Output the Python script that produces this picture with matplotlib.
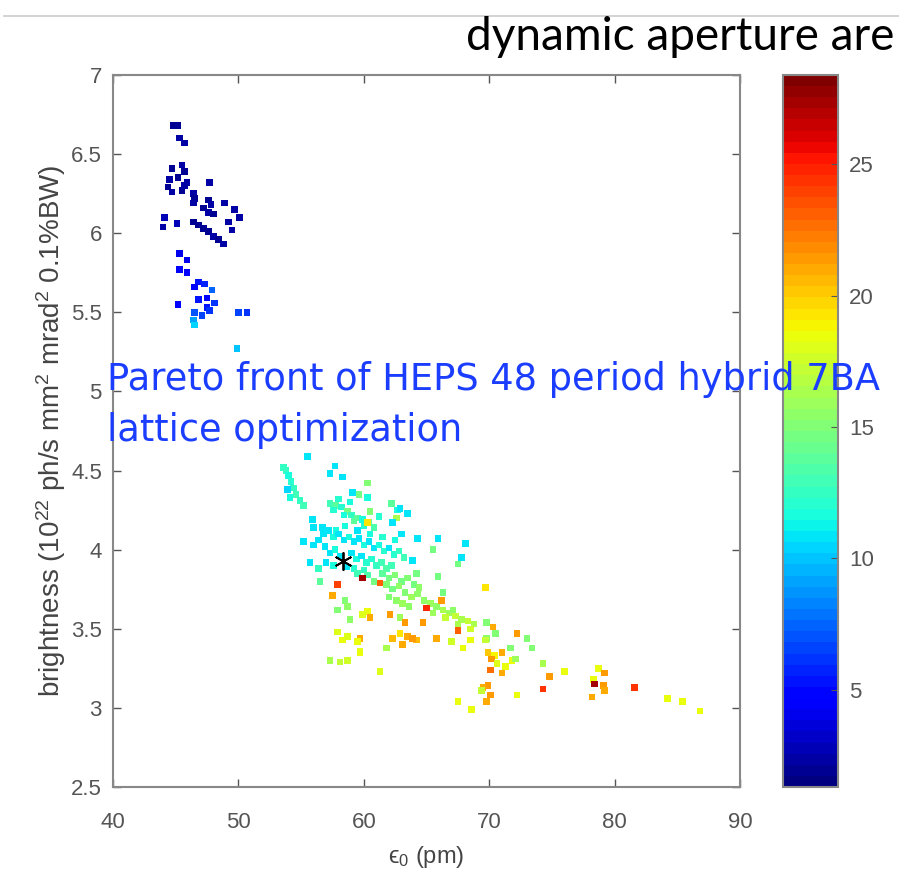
import matplotlib.pyplot as plt
import numpy as np

plt.rcParams['font.family'] = ['Liberation Sans', 'DejaVu Sans']
plt.rcParams['mathtext.default'] = 'regular'

# upper group of the Pareto front (small emittance, high brightness)
top_x = [44.8, 45.2, 45.3, 45.7, 44.7, 45.5, 45.7, 44.5, 45.2, 45.9, 47.7, 44.4, 44.7,
         45.5, 45.7, 46.4, 46.5, 46.4, 47.6, 47.8, 48.9, 47.2, 47.6, 48.0, 49.7, 50.1,
         49.2, 49.5, 44.1, 44.0, 45.1, 46.4, 46.8, 47.2, 47.6, 48.0, 48.4, 48.8,
         45.3, 45.9, 45.3, 45.9, 46.8, 47.3, 47.9, 46.5, 46.8, 47.5, 48.1, 47.5,
         45.2, 46.5, 47.1, 47.7, 46.4, 46.5, 50.0, 50.7, 49.9]
top_y = [6.68, 6.68, 6.60, 6.57, 6.41, 6.43, 6.39, 6.34, 6.35, 6.32, 6.32, 6.29, 6.26,
         6.27, 6.30, 6.25, 6.22, 6.19, 6.21, 6.18, 6.19, 6.16, 6.13, 6.12, 6.15, 6.10,
         6.07, 6.02, 6.10, 6.04, 6.06, 6.07, 6.05, 6.03, 6.01, 5.98, 5.96, 5.93,
         5.87, 5.83, 5.77, 5.75, 5.69, 5.68, 5.64, 5.66, 5.58, 5.59, 5.56, 5.53,
         5.55, 5.50, 5.48, 5.51, 5.45, 5.42, 5.50, 5.50, 5.27]
top_c = [2.0, 2.0, 2.2, 2.2, 2.0, 2.3, 2.0, 2.2, 2.0, 2.3, 2.4, 2.0, 2.2,
         2.0, 2.2, 2.3, 2.0, 2.2, 2.0, 2.3, 2.5, 2.0, 2.2, 2.0, 2.4, 2.3,
         2.2, 2.5, 2.6, 2.3, 2.8, 2.0, 2.0, 2.1, 2.0, 2.2, 2.0, 2.3,
         4.0, 4.2, 4.6, 4.5, 5.2, 5.6, 7.5, 5.0, 5.4, 5.0, 6.0, 5.5,
         4.6, 7.2, 6.8, 6.0, 9.0, 10.2, 6.5, 6.2, 10.0]

# main part of the front
mid_x = [53.6, 53.8, 54.0, 54.2, 54.4, 54.6, 54.9, 55.2, 53.9, 54.1, 55.5, 57.7, 57.3,
         58.3, 60.3, 59.1, 59.6, 60.3,
         57.3, 57.8, 58.2, 58.7, 59.0, 59.5, 59.9, 60.4, 57.6, 58.4, 59.2, 60.0, 60.8,
         60.5, 60.3, 62.2, 62.7, 62.6, 62.9, 63.5, 62.3, 58.0, 58.9, 61.2,
         55.9, 56.0, 56.7, 57.8, 55.2, 56.0, 56.4, 64.3, 65.9, 68.1, 65.5, 67.8, 67.5, 63.9,
         56.8, 57.2, 57.6, 58.0, 58.4, 58.8, 59.2, 59.6, 60.0, 60.4, 60.8, 61.2, 61.6,
         62.0, 62.4, 62.8, 63.2, 56.9, 57.3, 57.7, 58.1, 59.0, 59.4, 59.8, 60.2, 60.6,
         61.0, 61.4, 61.8, 62.2, 57.0, 57.6, 58.6, 59.2, 60.0, 55.7, 56.4, 58.5, 59.5,
         60.5, 61.5, 62.5, 63.0,
         61.5, 62.0, 62.5, 63.0, 63.5, 64.0, 64.4, 61.8, 62.3, 62.8, 63.3, 63.8, 64.3,
         62.0, 62.6, 63.1, 63.6, 60.8, 60.3, 59.5, 65.9, 66.3, 64.2,
         64.8, 65.3, 65.8, 66.3, 66.8, 67.3, 67.8, 68.3, 68.8, 65.5, 66.5, 67.5, 68.5,
         69.8, 70.5, 73.0, 73.4, 71.7, 69.8, 67.1, 58.5, 57.9, 58.9, 56.5]
mid_y = [4.52, 4.50, 4.47, 4.43, 4.39, 4.35, 4.31, 4.28, 4.38, 4.33, 4.59, 4.53, 4.48,
         4.46, 4.42, 4.36, 4.35, 4.33,
         4.29, 4.28, 4.27, 4.24, 4.22, 4.20, 4.19, 4.17, 4.25, 4.22, 4.18, 4.15, 4.14,
         4.24, 4.17, 4.29, 4.25, 4.20, 4.26, 4.23, 4.17, 4.32, 4.30, 4.21,
         4.19, 4.14, 4.14, 4.12, 4.05, 4.03, 4.06, 4.07, 4.07, 4.04, 4.00, 3.95, 3.91, 3.93,
         4.10, 4.12, 4.08, 4.10, 4.06, 4.08, 4.05, 4.07, 4.03, 4.05, 4.01, 4.03, 3.99,
         4.01, 3.97, 3.99, 3.95, 4.02, 3.98, 4.00, 3.96, 3.98, 3.94, 3.96, 3.92, 3.94,
         3.90, 3.92, 3.88, 3.90, 3.92, 3.90, 3.89, 3.88, 3.87, 3.92, 3.88, 4.15, 4.12,
         4.10, 4.08, 4.06, 4.10,
         3.85, 3.82, 3.84, 3.80, 3.82, 3.78, 3.76, 3.78, 3.75, 3.77, 3.73, 3.70, 3.72,
         3.70, 3.68, 3.66, 3.64, 3.80, 3.84, 3.85, 3.83, 3.73, 3.85,
         3.68, 3.66, 3.64, 3.62, 3.60, 3.58, 3.56, 3.55, 3.53, 3.60, 3.57, 3.53, 3.50,
         3.54, 3.47, 3.44, 3.38, 3.38, 3.44, 3.62, 3.68, 3.62, 3.56, 3.80]
mid_c = [12.5, 12.5, 11.5, 12.0, 12.5, 13.0, 12.5, 13.0, 10.5, 11.5, 11.0, 11.0, 11.0,
         11.0, 15.0, 11.0, 14.5, 11.5,
         13.0, 14.0, 12.0, 14.5, 12.5, 14.0, 11.5, 13.5, 12.0, 11.5, 14.0, 12.0, 13.5,
         15.0, 19.5, 14.0, 11.5, 16.5, 11.0, 11.0, 11.0, 12.0, 11.5, 12.0,
         11.0, 11.0, 11.0, 11.5, 11.0, 11.0, 11.0, 11.0, 11.0, 11.0, 14.5, 11.0, 14.5, 11.0,
         11.0, 11.0, 11.5, 11.0, 11.0, 11.5, 11.0, 11.0, 11.5, 11.0, 11.0, 11.5, 12.0,
         11.0, 12.0, 12.5, 13.0, 11.0, 11.0, 11.5, 11.0, 11.0, 11.5, 11.0, 12.0, 12.0,
         12.5, 13.0, 13.5, 13.0, 11.0, 11.5, 11.0, 12.0, 12.5, 11.0, 12.5, 11.5, 11.0,
         11.5, 12.0, 11.5, 11.0,
         14.0, 14.5, 15.0, 14.5, 15.0, 14.5, 15.5, 15.0, 14.5, 15.5, 15.0, 16.0, 15.5,
         15.0, 15.5, 16.0, 15.5, 14.5, 13.5, 13.0, 14.5, 14.5, 14.5,
         15.5, 16.0, 15.5, 16.5, 16.0, 17.0, 16.5, 17.0, 16.5, 16.0, 17.0, 16.5, 17.5,
         15.0, 15.0, 15.0, 15.0, 15.0, 15.5, 15.5, 15.0, 15.0, 15.5, 14.0]

# lower group (large emittance, large dynamic aperture)
low_x = [59.9, 57.9, 57.5, 61.3, 65.0, 66.2, 58.7, 60.3, 59.9, 60.5, 62.1, 62.9, 63.3,
         57.9, 58.3, 58.7, 59.7, 59.5, 59.7, 61.8, 62.3, 62.9, 63.5, 64.2, 63.9, 64.7,
         59.7, 57.3, 58.1, 58.7, 61.3, 63.1, 65.8, 67.0, 68.5, 67.9, 67.5, 69.7, 70.3,
         69.7, 72.2, 69.9, 70.4, 71.0, 71.8, 70.1, 71.0, 71.3, 72.1, 74.3, 74.8, 76.0,
         69.9, 69.5, 69.4, 70.1, 69.8, 67.5, 68.6, 72.2, 74.3, 78.7, 79.2, 78.3,
         78.4, 79.1, 79.2, 78.2, 81.6, 84.2, 85.4, 86.8, 70.2, 70.6]
low_y = [3.82, 3.78, 3.71, 3.79, 3.63, 3.68, 3.64, 3.61, 3.59, 3.57, 3.59, 3.57, 3.54,
         3.48, 3.43, 3.45, 3.44, 3.42, 3.36, 3.38, 3.44, 3.47, 3.45, 3.43, 3.44, 3.54,
         3.35, 3.30, 3.29, 3.30, 3.23, 3.40, 3.44, 3.42, 3.43, 3.38, 3.49, 3.76, 3.51,
         3.43, 3.47, 3.35, 3.33, 3.35, 3.30, 3.24, 3.22, 3.26, 3.31, 3.28, 3.20, 3.23,
         3.14, 3.13, 3.11, 3.08, 3.04, 3.04, 2.99, 3.08, 3.12, 3.25, 3.22, 3.18,
         3.15, 3.14, 3.11, 3.07, 3.13, 3.06, 3.04, 2.98, 3.31, 3.28]
low_c = [27.5, 24.0, 21.0, 23.0, 25.0, 21.5, 15.5, 18.5, 18.0, 21.0, 21.5, 16.0, 21.5,
         18.0, 18.5, 18.0, 21.0, 18.5, 18.0, 16.5, 20.5, 19.5, 21.0, 20.5, 21.5, 21.5,
         18.5, 16.5, 17.0, 17.5, 18.0, 21.0, 21.0, 17.5, 18.5, 18.5, 23.0, 19.5, 21.0,
         17.0, 21.5, 20.0, 19.0, 21.0, 18.5, 22.5, 21.0, 18.5, 16.0, 16.5, 21.5, 18.5,
         21.5, 21.0, 17.0, 21.5, 21.0, 18.5, 18.5, 18.5, 24.5, 18.5, 21.5, 18.5,
         27.5, 21.5, 21.0, 21.0, 24.5, 18.5, 18.5, 18.5, 21.5, 18.0]

star_x, star_y = 58.3, 3.93

x_ticks = [40, 50, 60, 70, 80, 90]
y_ticks = [2.5, 3, 3.5, 4, 4.5, 5, 5.5, 6, 6.5, 7]
y_tick_labels = ['2.5', '3', '3.5', '4', '4.5', '5', '5.5', '6', '6.5', '7']
cb_ticks = [5, 10, 15, 20, 25]
c_min, c_max = 1.3, 28.4

grey = '#555555'
fig = plt.figure(figsize=(8.99, 8.85), dpi=100)
ax = fig.add_axes([0.1257, 0.1107, 0.6975, 0.8047])
cax = fig.add_axes([0.871, 0.1107, 0.0612, 0.8047])

cmap = plt.get_cmap('jet', 64)
xs = top_x + mid_x + low_x
ys = top_y + mid_y + low_y
cs = top_c + mid_c + low_c
sc = ax.scatter(xs, ys, c=cs, cmap=cmap, vmin=c_min, vmax=c_max,
                marker='s', s=22, linewidths=0)
ax.plot(star_x, star_y, marker=(6, 2, 0), color='black', ms=13, mew=1.3)

ax.set_xlim(40, 90)
ax.set_ylim(2.5, 7)
ax.set_xticks(x_ticks)
ax.set_yticks(y_ticks)
ax.set_yticklabels(y_tick_labels)
ax.tick_params(direction='in', top=True, right=True, length=6, width=1,
               color=grey, labelcolor=grey, labelsize=16)
ax.tick_params(axis='x', pad=18)
ax.tick_params(axis='y', pad=8)
for sp in ax.spines.values():
    sp.set_color('#888888')
    sp.set_linewidth(1.5)
ax.set_xlabel('\u03f5$_0$ (pm)', fontsize=17, color='#444444', labelpad=8)
ax.set_ylabel('brightness (10$^{22}$ ph/s mm$^{2}$ mrad$^{2}$ 0.1%BW)',
              fontsize=20, color='#444444', labelpad=2)

cb = fig.colorbar(sc, cax=cax, ticks=cb_ticks)
cb.ax.tick_params(direction='in', length=5, color=grey, labelcolor=grey, labelsize=16,
                  pad=8)
cb.outline.set_edgecolor('#888888')
cb.outline.set_linewidth(1.5)

# slide decorations around the figure
fig.add_artist(plt.Line2D([0.005, 1.0], [0.982, 0.982], color='#cccccc', lw=1.2))
fig.text(0.995, 0.958, 'dynamic aperture are', ha='right', va='center',
         fontsize=33, family='Lato', color='black')
fig.text(0.119, 0.571, 'Pareto front of HEPS 48 period hybrid 7BA', ha='left',
         va='center', fontsize=26.5, family='DejaVu Sans', color='#1a3dff')
fig.text(0.119, 0.514, 'lattice optimization', ha='left',
         va='center', fontsize=26.5, family='DejaVu Sans', color='#1a3dff')

fig.savefig('out.png', dpi=100)
